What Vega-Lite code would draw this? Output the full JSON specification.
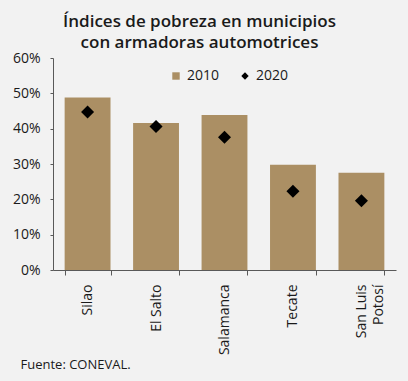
{
  "$schema": "https://vega.github.io/schema/vega-lite/v6.json",
  "width": 343,
  "height": 212,
  "autosize": {"type": "none"},
  "padding": {"left": 53, "top": 58, "right": 12, "bottom": 111},
  "background": "#f2f2f2",
  "title": {
    "text": ["Índices de pobreza en municipios", "con armadoras automotrices"],
    "anchor": "middle",
    "frame": "group",
    "dx": -25,
    "offset": -1,
    "fontSize": 17,
    "font": "Open Sans",
    "fontWeight": 600,
    "color": "#1a1a1a",
    "lineHeight": 21
  },
  "data": {
    "values": [
      {"municipio": "Silao", "anio": "2010", "valor": 0.488},
      {"municipio": "El Salto", "anio": "2010", "valor": 0.416},
      {"municipio": "Salamanca", "anio": "2010", "valor": 0.439},
      {"municipio": "Tecate", "anio": "2010", "valor": 0.298},
      {"municipio": "San Luis Potosí", "anio": "2010", "valor": 0.275},
      {"municipio": "Silao", "anio": "2020", "valor": 0.447},
      {"municipio": "El Salto", "anio": "2020", "valor": 0.406},
      {"municipio": "Salamanca", "anio": "2020", "valor": 0.376},
      {"municipio": "Tecate", "anio": "2020", "valor": 0.223},
      {"municipio": "San Luis Potosí", "anio": "2020", "valor": 0.196}
    ]
  },
  "encoding": {
    "x": {
      "field": "municipio",
      "type": "nominal",
      "sort": null,
      "scale": {"paddingInner": 0.33, "paddingOuter": 0.17},
      "axis": {
        "title": "Fuente: CONEVAL.",
        "titleAnchor": "start",
        "titleAlign": "left",
        "titleX": -33,
        "titleY": 98,
        "titleBaseline": "alphabetic",
        "titleFontWeight": "normal",
        "titleFontSize": 13,
        "titleFont": "Open Sans",
        "titleColor": "#1a1a1a",
        "labelAngle": -90,
        "labelAlign": "right",
        "labelBaseline": "middle",
        "labelPadding": 9,
        "labelFontSize": 14,
        "labelFont": "Open Sans",
        "labelColor": "#1a1a1a",
        "labelExpr": "datum.label == 'San Luis Potosí' ? ['San Luis', 'Potosí'] : datum.label",
        "labelLineHeight": 17,
        "tickBand": "extent",
        "tickSize": 5,
        "tickColor": "#595959",
        "domainColor": "#595959"
      }
    },
    "y": {
      "field": "valor",
      "type": "quantitative",
      "scale": {"domain": [0, 0.6]},
      "axis": {
        "title": null,
        "format": ".0%",
        "values": [0, 0.1, 0.2, 0.3, 0.4, 0.5, 0.6],
        "labelOverlap": false,
        "labelFlush": false,
        "grid": false,
        "tickSize": 3,
        "labelPadding": 10,
        "labelFontSize": 14,
        "labelFont": "Open Sans",
        "labelColor": "#1a1a1a",
        "tickColor": "#595959",
        "domainColor": "#595959"
      }
    }
  },
  "layer": [
    {
      "transform": [{"filter": "datum.anio == '2010'"}],
      "mark": {"type": "bar", "color": "#ab8f64"},
      "encoding": {
        "color": {
          "field": "anio",
          "type": "nominal",
          "scale": {"domain": ["2010", "2020"], "range": ["#ab8f64", "#000000"]},
          "legend": {
            "title": null,
            "orient": "none",
            "legendX": 116,
            "legendY": 11,
            "direction": "horizontal",
            "labelFontSize": 14,
            "labelFont": "Open Sans",
            "labelColor": "#1a1a1a",
            "symbolSize": 55,
            "symbolOpacity": 1,
            "columnPadding": 18
          }
        }
      }
    },
    {
      "transform": [{"filter": "datum.anio == '2020'"}],
      "mark": {"type": "point", "filled": true, "size": 170, "opacity": 1},
      "encoding": {
        "color": {"field": "anio", "type": "nominal"},
        "shape": {
          "field": "anio",
          "type": "nominal",
          "scale": {"domain": ["2010", "2020"], "range": ["square", "diamond"]},
          "legend": {
            "title": null,
            "orient": "none",
            "legendX": 116,
            "legendY": 11,
            "direction": "horizontal",
            "labelFontSize": 14,
            "labelFont": "Open Sans",
            "labelColor": "#1a1a1a",
            "symbolSize": 55,
            "symbolOpacity": 1,
            "columnPadding": 18
          }
        }
      }
    }
  ],
  "config": {"view": {"stroke": null}}
}
